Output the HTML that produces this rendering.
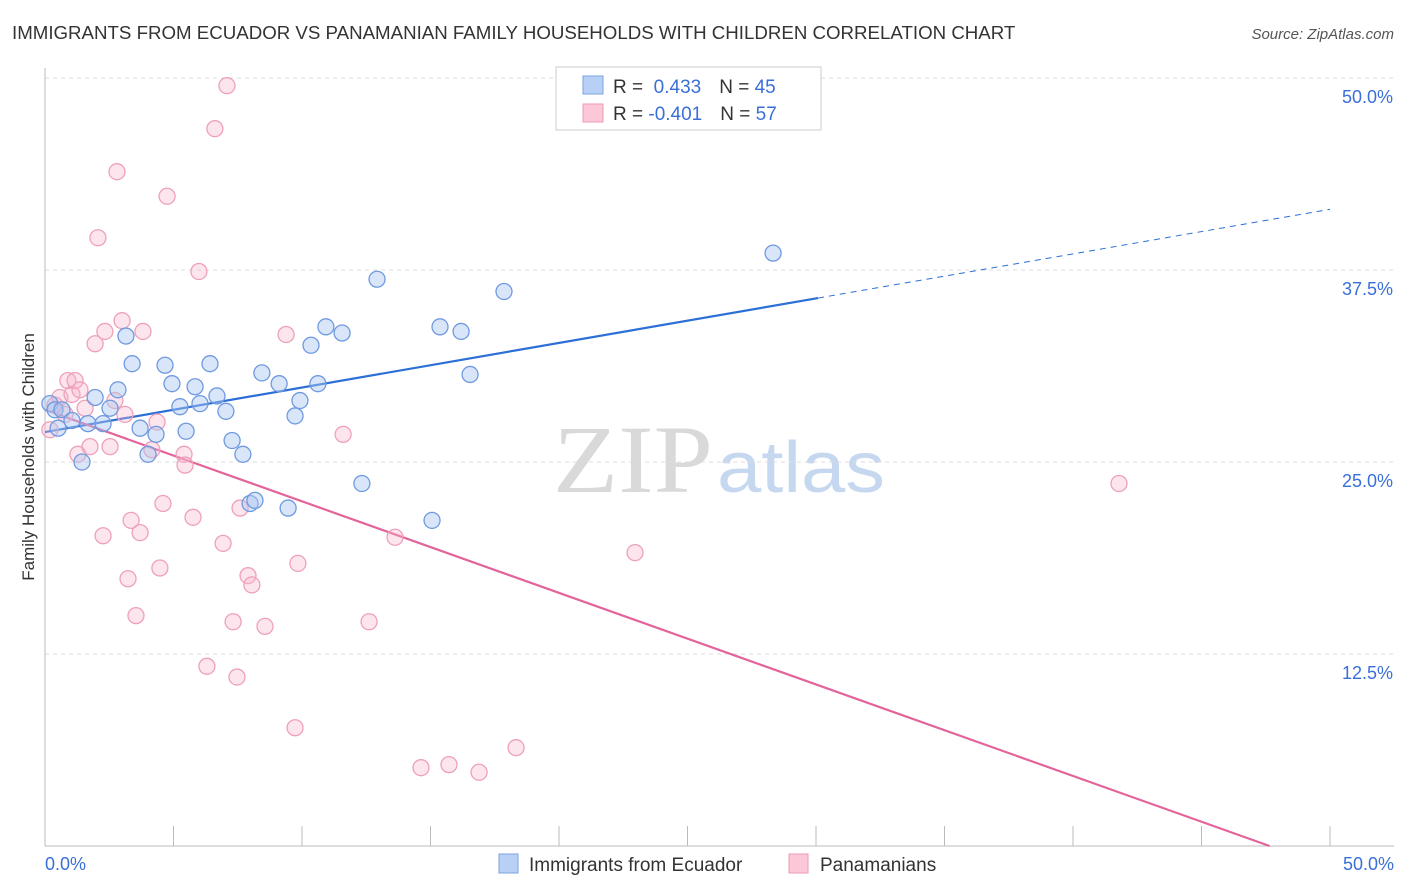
<!DOCTYPE html>
<html><head><meta charset="utf-8"><style>
body{margin:0;background:#fff;font-family:"Liberation Sans",sans-serif;}
svg{display:block}
</style></head><body>
<svg id="chart" width="1406" height="892">
<text x="12" y="39" font-size="18.7" fill="#333">IMMIGRANTS FROM ECUADOR VS PANAMANIAN FAMILY HOUSEHOLDS WITH CHILDREN CORRELATION CHART</text>
<text x="1394" y="39" font-size="15" fill="#555" font-style="italic" text-anchor="end">Source: ZipAtlas.com</text>
<g>
<text x="553" y="492" font-size="96" font-family="Liberation Serif,serif" fill="#d9d9d9" textLength="160" lengthAdjust="spacingAndGlyphs">ZIP</text>
<text x="717" y="492" font-size="72" fill="#c6d8f0" textLength="168" lengthAdjust="spacingAndGlyphs">atlas</text>
</g>
<text transform="translate(34,457) rotate(-90)" font-size="17" fill="#333" text-anchor="middle">Family Households with Children</text>
<g id="grid"></g><g id="axes"></g><g id="lines"></g><g id="pts"></g>
<g>
<rect x="556" y="67" width="265" height="63" fill="#fff" stroke="#ccc"/>
<rect x="583" y="76" width="20" height="18" fill="#b8d0f5" stroke="#7aa3e0"/>
<rect x="583" y="104" width="20" height="18" fill="#fcc8d8" stroke="#ee9ab5"/>
<text x="613" y="93" font-size="19" fill="#333">R = <tspan fill="#3a6fd8">&#160;0.433</tspan><tspan dx="18">N = </tspan><tspan fill="#3a6fd8">45</tspan></text>
<text x="613" y="120" font-size="19" fill="#333">R = <tspan fill="#3a6fd8">-0.401</tspan><tspan dx="18">N = </tspan><tspan fill="#3a6fd8">57</tspan></text>
</g>
<g>
<rect x="499" y="854" width="19" height="19" fill="#b8d0f5" stroke="#7aa3e0"/>
<text x="529" y="871" font-size="19" fill="#333">Immigrants from Ecuador</text>
<rect x="789" y="854" width="19" height="19" fill="#fcc8d8" stroke="#ee9ab5"/>
<text x="820" y="871" font-size="19" fill="#333">Panamanians</text>
</g>
</svg>
<script>
const yTicks=[12.5,25,37.5,50];
const yTickLabels=["12.5%","25.0%","37.5%","50.0%"];
const xTicks=[0,5,10,15,20,25,30,35,40,45,50];
const blueX=[0.19,0.39,0.51,0.66,1.05,1.44,1.67,1.95,2.26,2.53,2.84,3.15,3.39,3.70,4.01,4.32,4.67,4.94,5.25,5.49,5.84,6.03,6.42,6.69,7.04,7.28,7.70,7.98,8.17,8.44,9.11,9.46,9.73,9.92,10.35,10.62,10.93,11.56,12.33,12.92,15.06,15.37,16.19,16.54,17.86,28.33];
const blueY=[28.8,28.4,27.2,28.4,27.7,25.0,27.5,29.2,27.5,28.5,29.7,33.2,31.4,27.2,25.5,26.8,31.3,30.1,28.6,27.0,29.9,28.8,31.4,29.3,28.3,26.4,25.5,22.3,22.5,30.8,30.1,22.0,28.0,29.0,32.6,30.1,33.8,33.4,23.6,36.9,21.2,33.8,33.5,30.7,36.1,38.6];
const pinkX=[0.19,0.39,0.58,0.78,0.89,1.05,1.17,1.36,1.56,1.28,1.75,1.95,2.06,2.26,2.33,2.53,2.72,2.80,3.00,3.11,3.23,3.35,3.54,3.70,3.81,4.16,4.36,4.47,4.59,4.75,5.41,5.45,5.76,5.99,6.30,6.61,6.93,7.08,7.32,7.47,7.59,7.90,8.05,8.56,9.38,9.73,9.84,11.60,12.61,13.62,14.63,15.72,16.89,18.33,22.96,41.79];
const pinkY=[27.1,28.7,29.2,28.1,30.3,29.4,30.3,29.7,28.5,25.5,26.0,32.7,39.6,20.2,33.5,26.0,29.0,43.9,34.2,28.1,17.4,21.2,15.0,20.4,33.5,25.8,27.6,18.1,22.3,42.3,25.5,24.8,21.4,37.4,11.7,46.7,19.7,49.5,14.6,11.0,22.0,17.6,17.0,14.3,33.3,7.7,18.4,26.8,14.6,20.1,5.1,5.3,4.8,6.4,19.1,23.6];
const blueLine=[26.95,0.29];
const pinkLine=[28.4,-0.596];
const X=v=>45+v*25.7, Y=v=>846-v*15.36;
const NS="http://www.w3.org/2000/svg";
function mk(p,t,a){const e=document.createElementNS(NS,t);for(const k in a)e.setAttribute(k,a[k]);document.getElementById(p).appendChild(e);return e;}
yTicks.forEach((t,i)=>{
 const l=mk('grid','line',{x1:45,x2:1394,y1:Y(t),y2:Y(t),stroke:'#ddd','stroke-dasharray':'4,4'});
 
 
 const tx=mk('grid','text',{x:1393,y:Y(t)+25,'font-size':18,fill:'#3a6fd8','text-anchor':'end'});
 tx.textContent=yTickLabels[i];
 
 
});
mk('axes','line',{x1:45,x2:45,y1:68,y2:846,stroke:'#bbb'});
mk('axes','line',{x1:45,x2:1394,y1:846,y2:846,stroke:'#bbb'});
xTicks.forEach(t=>{
 const l=mk('axes','line',{x1:X(t),x2:X(t),y1:826,y2:846,stroke:'#bbb'});
 
 
});
const xl=mk('axes','text',{x:45,y:870,'font-size':18,fill:'#3a6fd8'});xl.textContent='0.0%';


const xr=mk('axes','text',{x:1394,y:870,'font-size':18,fill:'#3a6fd8','text-anchor':'end'});xr.textContent='50.0%';


const bEnd=30.08;
let ln=mk('lines','line',{x1:X(0),y1:Y(blueLine[0]),x2:X(bEnd),y2:Y(blueLine[0]+blueLine[1]*bEnd),stroke:'#2c6fd6','stroke-width':2.2});


ln=mk('lines','line',{x1:X(bEnd),y1:Y(blueLine[0]+blueLine[1]*bEnd),x2:X(50),y2:Y(blueLine[0]+blueLine[1]*50),stroke:'#2c6fd6','stroke-width':1,'stroke-dasharray':'6,5'});


const pEnd=-pinkLine[0]/pinkLine[1];
ln=mk('lines','line',{x1:X(0),y1:Y(pinkLine[0]),x2:X(pEnd),y2:Y(0),stroke:'#e3649a','stroke-width':2.2});


pinkX.forEach((x,i)=>{
 const c=mk('pts','circle',{cx:X(x),cy:Y(pinkY[i]),r:8,fill:'rgba(248,180,203,0.35)',stroke:'#eea0bb','stroke-width':1.3});
 
 
});
blueX.forEach((x,i)=>{
 const c=mk('pts','circle',{cx:X(x),cy:Y(blueY[i]),r:8,fill:'rgba(170,198,240,0.45)',stroke:'#6f9ae0','stroke-width':1.3});
 
 
});
</script>
</body></html>
